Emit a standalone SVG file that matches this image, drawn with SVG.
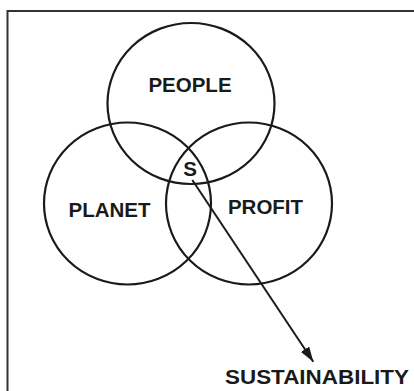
<svg xmlns="http://www.w3.org/2000/svg" width="414" height="391" viewBox="0 0 414 391">
<style>
.c{fill:none;stroke:#1a1a1a;stroke-width:2.2}
.t{font-family:"Liberation Sans",Arial,sans-serif;font-weight:bold;font-size:20.5px;fill:#1a1a1a;text-anchor:middle}
</style>
<defs>
<marker id="ah" viewBox="0 0 15 10" refX="15" refY="5" markerWidth="7.5" markerHeight="5" markerUnits="strokeWidth" orient="auto">
<path d="M0,0 L15,5 L0,10 z" fill="#1a1a1a"/>
</marker>
</defs>
<rect width="414" height="391" fill="#fff"/>
<path d="M7.5,391 V11 H414" fill="none" stroke="#333" stroke-width="2"/>
<g id="people"><ellipse class="c" cx="191" cy="103.5" rx="83.5" ry="80.5"/><text class="t" x="190" y="92">PEOPLE</text></g>
<g id="planet"><ellipse class="c" cx="127.5" cy="203.5" rx="83.5" ry="81"/><text class="t" x="109.5" y="216.7">PLANET</text></g>
<g id="profit"><ellipse class="c" cx="249" cy="203.5" rx="83" ry="81"/><text class="t" x="265.5" y="214.3">PROFIT</text></g>
<g id="s"><text class="t" x="190.2" y="175.7">S</text></g>
<g id="sustainability"><text class="t" x="317" y="384.3" textLength="184" lengthAdjust="spacingAndGlyphs">SUSTAINABILITY</text></g>
<g id="connectors"><line x1="192.3" y1="180" x2="313.3" y2="361.7" stroke="#1a1a1a" stroke-width="2" marker-end="url(#ah)"/></g>
</svg>
